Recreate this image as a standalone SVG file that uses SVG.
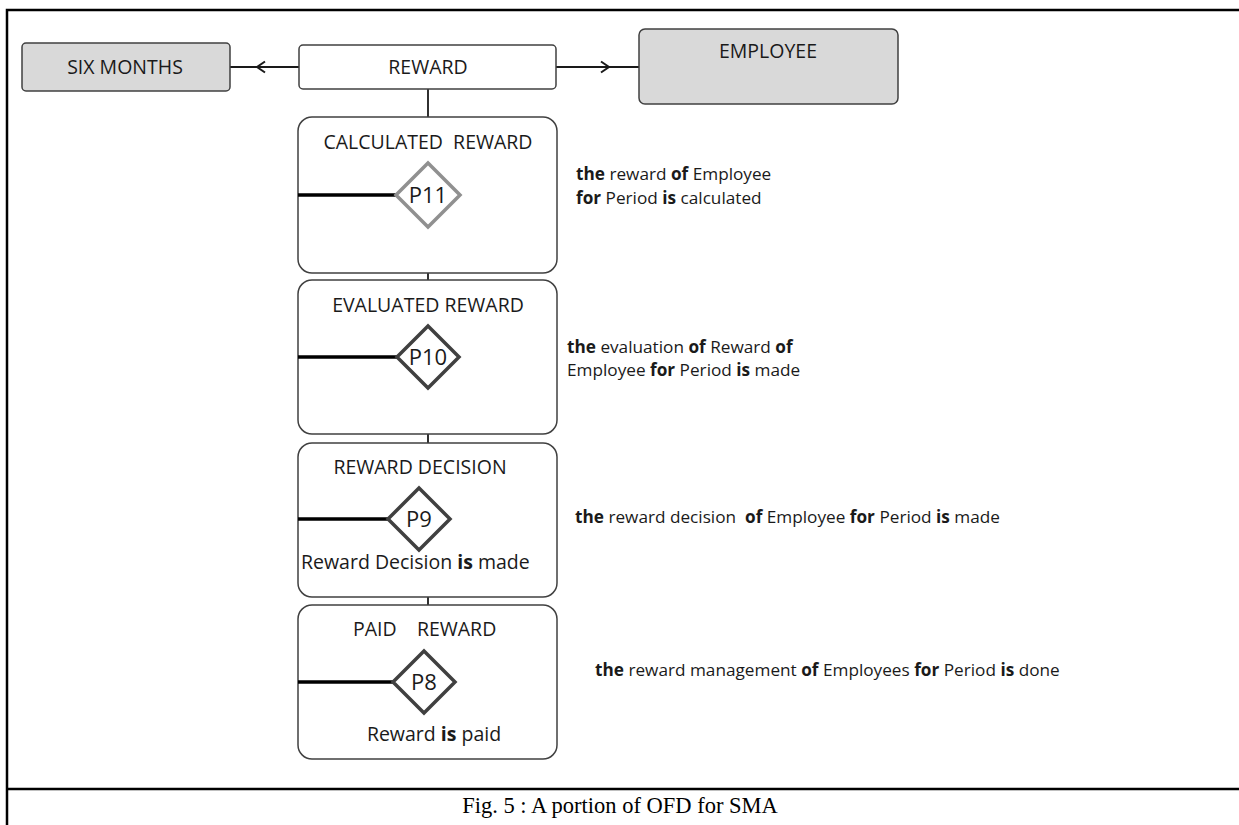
<svg xmlns="http://www.w3.org/2000/svg" width="1239" height="825" viewBox="0 0 1239 825">
  <defs>
    <style>
      .entity { fill: #d9d9d9; stroke: #404040; stroke-width: 1.5; }
      .plain { fill: #ffffff; stroke: #404040; stroke-width: 1.5; }
      .lbl { font-family: "Open Sans", "Noto Sans", "Liberation Sans", sans-serif; font-size: 19.5px; fill: #1a1a1a; }
      .pid { font-family: "Open Sans", "Noto Sans", "Liberation Sans", sans-serif; font-size: 22px; fill: #1a1a1a; }
      .ann { font-family: "Open Sans", "Noto Sans", "Liberation Sans", sans-serif; font-size: 17.2px; fill: #1a1a1a; }
      .b { font-weight: bold; }
      .conn { stroke: #1a1a1a; stroke-width: 1.8; fill: none; }
      .link { stroke: #000000; stroke-width: 3.5; fill: none; }
      .frame { stroke: #000000; stroke-width: 2.5; fill: none; }
      .cap { font-family: "Liberation Serif", "Times New Roman", serif; font-size: 22.5px; fill: #000000; }
    </style>
    <marker id="chev" viewBox="0 0 12 14" refX="9" refY="7" markerWidth="12" markerHeight="14" markerUnits="userSpaceOnUse" orient="auto">
      <path d="M1,1.5 L9,7 L1,12.5" fill="none" stroke="#1a1a1a" stroke-width="2"/>
    </marker>
  </defs>
  <rect width="1239" height="825" fill="#ffffff"/>

  <!-- page frame and caption rule -->
  <g id="frame">
    <path class="frame" d="M7,825 L7,10 L1239,10"/>
    <path class="frame" d="M7,789 L1239,789"/>
  </g>

  <!-- connectors -->
  <g id="connectors">
    <path class="conn" d="M299,67 L230,67"/>
    <path class="conn" d="M299,67 L257,67" marker-end="url(#chev)"/>
    <path class="conn" d="M556,67 L639,67"/>
    <path class="conn" d="M556,67 L609,67" marker-end="url(#chev)"/>
    <path class="conn" d="M428,89 L428,117"/>
    <path class="conn" d="M428,273 L428,280"/>
    <path class="conn" d="M428,434 L428,443"/>
    <path class="conn" d="M428,597 L428,605"/>
  </g>

  <g id="six-months">
    <rect class="entity" x="22" y="43" width="208" height="48" rx="4"/>
    <text class="lbl" x="125" y="74" text-anchor="middle">SIX MONTHS</text>
  </g>

  <g id="reward">
    <rect class="plain" x="299" y="45" width="257" height="44" rx="4"/>
    <text class="lbl" x="428" y="74" text-anchor="middle">REWARD</text>
  </g>

  <g id="employee">
    <rect class="entity" x="639" y="29" width="259" height="75" rx="6"/>
    <text class="lbl" x="768" y="58" text-anchor="middle">EMPLOYEE</text>
  </g>

  <g id="calculated-reward">
    <rect class="plain" x="298" y="117" width="259" height="156" rx="14"/>
    <text class="lbl" x="428" y="149" text-anchor="middle" xml:space="preserve">CALCULATED  REWARD</text>
    <path class="link" d="M298,195 L397,195"/>
    <polygon points="428,163 460,195 428,227 396,195" fill="#ffffff" stroke="#909090" stroke-width="3.5"/>
    <text class="pid" x="428" y="203" text-anchor="middle">P11</text>
  </g>

  <g id="evaluated-reward">
    <rect class="plain" x="298" y="280" width="259" height="154" rx="14"/>
    <text class="lbl" x="428" y="312" text-anchor="middle">EVALUATED REWARD</text>
    <path class="link" d="M298,357 L398,357"/>
    <polygon points="428,326 459,357 428,388 397,357" fill="#ffffff" stroke="#404040" stroke-width="3.5"/>
    <text class="pid" x="428" y="365" text-anchor="middle">P10</text>
  </g>

  <g id="reward-decision">
    <rect class="plain" x="298" y="443" width="259" height="154" rx="14"/>
    <text class="lbl" x="420" y="474" text-anchor="middle">REWARD DECISION</text>
    <path class="link" d="M298,519 L389,519"/>
    <polygon points="419,488 450,519 419,550 388,519" fill="#ffffff" stroke="#404040" stroke-width="3.5"/>
    <text class="pid" x="419" y="527" text-anchor="middle">P9</text>
    <text class="lbl" x="301" y="569">Reward Decision <tspan class="b">is</tspan> made</text>
  </g>

  <g id="paid-reward">
    <rect class="plain" x="298" y="605" width="259" height="154" rx="14"/>
    <text class="lbl" x="353" y="636" xml:space="preserve">PAID    REWARD</text>
    <path class="link" d="M298,682 L394,682"/>
    <polygon points="424,651 455,682 424,713 393,682" fill="#ffffff" stroke="#404040" stroke-width="3.5"/>
    <text class="pid" x="424" y="690" text-anchor="middle">P8</text>
    <text class="lbl" x="434" y="741" text-anchor="middle">Reward <tspan class="b">is</tspan> paid</text>
  </g>

  <!-- annotations -->
  <g id="annotations">
    <text class="ann" x="576" y="180"><tspan class="b">the</tspan> reward <tspan class="b">of</tspan> Employee</text>
    <text class="ann" x="576" y="204"><tspan class="b">for</tspan> Period <tspan class="b">is</tspan> calculated</text>
    <text class="ann" x="567" y="353"><tspan class="b">the</tspan> evaluation <tspan class="b">of</tspan> Reward <tspan class="b">of</tspan></text>
    <text class="ann" x="567" y="376">Employee <tspan class="b">for</tspan> Period <tspan class="b">is</tspan> made</text>
    <text class="ann" x="575" y="523" xml:space="preserve"><tspan class="b">the</tspan> reward decision  <tspan class="b">of</tspan> Employee <tspan class="b">for</tspan> Period <tspan class="b">is</tspan> made</text>
    <text class="ann" x="595" y="676"><tspan class="b">the</tspan> reward management <tspan class="b">of</tspan> Employees <tspan class="b">for</tspan> Period <tspan class="b">is</tspan> done</text>
  </g>

  <g id="caption">
    <text class="cap" x="620" y="813" text-anchor="middle">Fig. 5 : A portion of OFD for SMA</text>
  </g>
</svg>
